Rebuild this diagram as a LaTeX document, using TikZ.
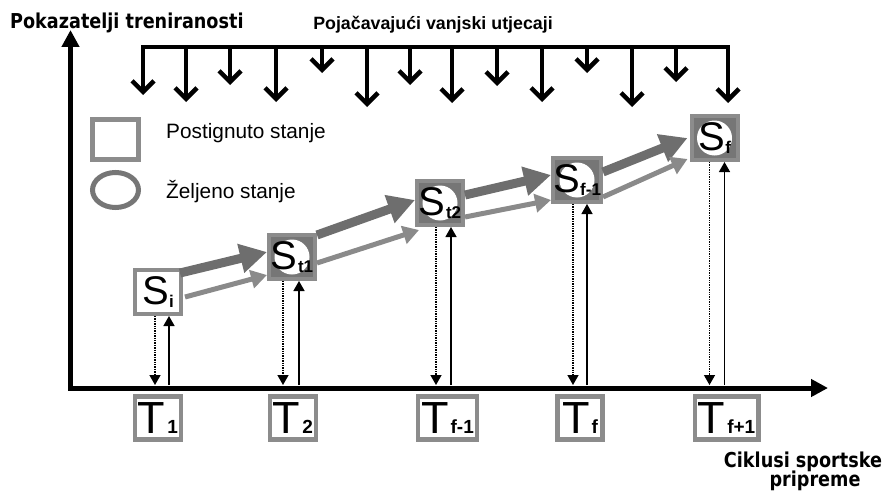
\documentclass[tikz,border=0pt]{standalone}
\usepackage{fontspec}
\setmainfont{Liberation Sans}
\newfontfamily\djv[FakeStretch=0.86]{DejaVu Sans}
\usetikzlibrary{arrows.meta,calc,shapes.geometric}
\definecolor{boxgray}{HTML}{8C8C8C}
\definecolor{fillgray}{HTML}{767676}
\definecolor{darkarr}{HTML}{6E6E6E}
\definecolor{lightarr}{HTML}{8A8A8A}
\newcommand{\Slab}[1]{{\fontsize{40}{40}\selectfont S}\kern0.5pt\raisebox{-3pt}{\fontsize{17}{17}\selectfont\bfseries #1}}
\newcommand{\Tlab}[1]{{\fontsize{45}{45}\selectfont T}\kern2pt{\fontsize{19}{19}\selectfont\bfseries #1}}
\tikzset{
  sstate/.style={draw=boxgray, line width=4pt, fill=fillgray, minimum width=46pt, minimum height=44pt, inner sep=0pt,
    path picture={\fill[white] (path picture bounding box.center) circle (17.5pt);}},
  sfirst/.style={draw=boxgray, line width=4pt, fill=white, minimum width=46pt, minimum height=44pt, inner sep=0pt},
  tstate/.style={draw=boxgray, line width=4.5pt, fill=white, minimum width=45pt, minimum height=43pt, inner xsep=3pt, inner ysep=0pt},
  upperarr/.style={draw=darkarr, line width=9pt, -{Triangle[length=27pt,width=28pt]}},
  lowerarr/.style={draw=lightarr, line width=5pt, -{Triangle[length=16pt,width=18pt]}},
  dotline/.style={densely dotted, line width=1.4pt, -{Triangle[length=10pt,width=11pt]}},
  solline/.style={line width=1.4pt, -{Triangle[length=10pt,width=11pt]}},
  influence/.style={line width=4.5pt, -{Straight Barb[length=11pt,width=22pt]}},
  axisline/.style={line width=5pt},
  title/.style={font=\djv\bfseries\fontsize{20.5}{22}\selectfont, inner sep=0pt},
  legtext/.style={font=\fontsize{20.8}{22}\selectfont, inner sep=0pt, anchor=west}
}
\begin{document}
\begin{tikzpicture}[x=1pt,y=-1pt]
\useasboundingbox (0,0) rectangle (885,495);

% titles
\node[title, anchor=base west] (ytitle) at (10,29) {Pokazatelji treniranosti};
\node[font=\bfseries\fontsize{17.8}{19}\selectfont, inner sep=0pt, anchor=base] (toptitle) at (433,30) {Pojačavajući vanjski utjecaji};
\node[title, anchor=base] (xtitle1) at (803,467) {Ciklusi sportske};
\node[title, anchor=base] (xtitle2) at (815,486) {pripreme};

% axes
\coordinate (ytip) at (70.5,30);
\coordinate (origin) at (70.5,388);
\coordinate (xtip) at (828,388);
\coordinate (axis) at (70.5,385);
\draw[axisline, {Triangle[length=17pt,width=17pt]}-{Triangle[length=17pt,width=17pt]}, line join=miter] (ytip) -- (origin) -- (xtip);

% influences
\coordinate (barL) at (143,47);
\coordinate (barR) at (728,47);
\draw[influence, {Straight Barb[length=11pt,width=22pt]}-{Straight Barb[length=11pt,width=22pt]}, line join=miter] (143,95) -- (barL) -- (barR) -- (728,103);
\foreach \x/\y in {186/102,230/85,276/102,322/73,367/107,410/85,452/103,497/86,542/102,587/73,632/107,676/82}
  \draw[influence] (\x,47) -- (\x,\y);

% legend
\node[draw=boxgray, line width=5pt, fill=white, minimum width=46pt, minimum height=40pt, inner sep=0pt] (legsq) at (115.5,139.5) {};
\node[legtext] (legsqt) at (166,133) {Postignuto stanje};
\node[draw=fillgray, line width=5pt, ellipse, fill=white, minimum width=46pt, minimum height=35pt, inner sep=0pt] (legel) at (115.5,190) {};
\node[legtext] (legelt) at (166,192) {Željeno stanje};

% states
\node[sfirst] (si) at (158,292) {\Slab{i}};
\node[sstate] (st1) at (292,257) {\Slab{t1}};
\node[sstate] (st2) at (440,203) {\Slab{t2}};
\node[sstate] (sf1) at (577,180) {\Slab{f-1}};
\node[sstate] (sf) at (714.5,138) {\Slab{f}};

% cycles
\node[tstate] (t1) at (158,418) {\Tlab{1}};
\node[tstate] (t2) at (293,418) {\Tlab{2}};
\node[tstate] (tf1) at (447.5,418) {\Tlab{f-1}};
\node[tstate] (tf) at (580,418) {\Tlab{f}};
\node[tstate] (tf2) at (726.5,418) {\Tlab{f+1}};

% progress arrows
\draw[upperarr] ([xshift=-3pt,yshift=19pt]si.east) -- ([yshift=5pt]st1.west);
\draw[lowerarr] ([xshift=2pt,yshift=-5pt]si.east) -- ([yshift=-18pt]st1.west);
\draw[upperarr] ([yshift=22pt]st1.east) -- ([yshift=3pt]st2.west);
\draw[lowerarr] ([yshift=-6pt]st1.east) -- ([xshift=4pt,yshift=-3pt]st2.south west);
\draw[upperarr] ([yshift=8pt]st2.east) -- ([yshift=5pt]sf1.west);
\draw[lowerarr] ([yshift=-14pt]st2.east) -- ([yshift=-20pt]sf1.west);
\draw[upperarr] ([yshift=8pt]sf1.east) -- ([xshift=-2pt]sf.west);
\draw[lowerarr] ([yshift=-17pt]sf1.east) -- ([xshift=-2pt,yshift=-21pt]sf.west);

% vertical links
\foreach \n/\d/\s in {si/-3/11, st1/-9/7, st2/-4/11, sf1/-4/10, sf/-5/10}{
  \draw[dotline] ([xshift=\d pt]\n.south) -- ([xshift=\d pt]\n.south |- axis);
  \draw[solline] ([xshift=\s pt]\n.south |- axis) -- ([xshift=\s pt]\n.south);
}
\end{tikzpicture}
\end{document}
